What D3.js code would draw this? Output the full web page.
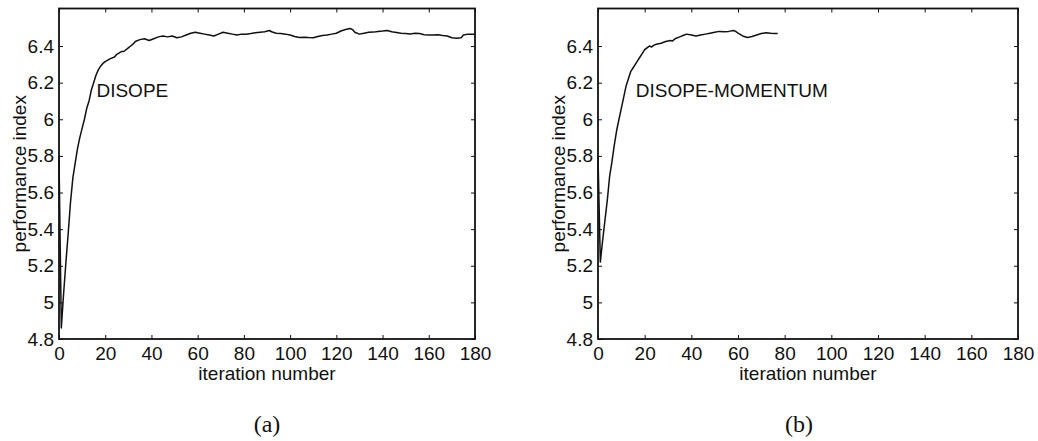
<!DOCTYPE html>
<html>
<head>
<meta charset="utf-8">
<script src="https://cdn.jsdelivr.net/npm/d3@7"></script>
<style>
  body { margin: 0; background: #fff; }
  svg { display: block; }
  text { font-family: Arial, "Liberation Sans", Helvetica, sans-serif; fill: #111; }
</style>
</head>
<body>
<div id="chart"></div>
<script>
// x tick labels, y tick labels
const xTicks = [0, 20, 40, 60, 80, 100, 120, 140, 160, 180];
const yTicks = [4.8, 5, 5.2, 5.4, 5.6, 5.8, 6, 6.2, 6.4];

// DISOPE: [iteration, performance index]
const disope = [
  [0, 5.80], [1, 4.86], [2, 5.05], [3, 5.22], [4, 5.38], [5, 5.55], [6, 5.68], [7, 5.76],
  [8, 5.84], [9, 5.90], [10, 5.95], [11, 6.00], [12, 6.06], [13, 6.10], [14, 6.16], [15, 6.20],
  [16, 6.24], [17, 6.27], [18, 6.29], [19, 6.305], [20, 6.315], [22, 6.33], [24, 6.34], [25, 6.355],
  [27, 6.37], [28, 6.37], [30, 6.39], [31, 6.40], [32, 6.41], [33, 6.425], [35, 6.435], [37, 6.44],
  [39, 6.43], [41, 6.44], [43, 6.45], [45, 6.455], [47, 6.45], [49, 6.455], [51, 6.445], [53, 6.45],
  [55, 6.46], [57, 6.47], [59, 6.475], [61, 6.47], [63, 6.465], [65, 6.46], [67, 6.455], [69, 6.465],
  [71, 6.475], [73, 6.47], [75, 6.465], [77, 6.46], [79, 6.465], [81, 6.465], [83, 6.468], [85, 6.472],
  [87, 6.475], [89, 6.478], [91, 6.485], [92, 6.478], [94, 6.47], [96, 6.468], [98, 6.465], [100, 6.46],
  [102, 6.452], [104, 6.447], [106, 6.448], [108, 6.446], [110, 6.445], [112, 6.452], [114, 6.458], [116, 6.46],
  [118, 6.465], [120, 6.47], [122, 6.482], [124, 6.49], [126, 6.496], [127, 6.49], [128, 6.475], [130, 6.465],
  [132, 6.47], [134, 6.475], [136, 6.476], [138, 6.48], [140, 6.482], [142, 6.485], [144, 6.478], [146, 6.474],
  [148, 6.47], [150, 6.468], [152, 6.466], [154, 6.47], [156, 6.468], [158, 6.462], [160, 6.46], [162, 6.46],
  [164, 6.462], [166, 6.458], [168, 6.455], [170, 6.445], [172, 6.443], [174, 6.445], [175, 6.46], [177, 6.465],
  [180, 6.465]
];

// DISOPE-MOMENTUM: [iteration, performance index]
const momentum = [
  [0, 5.80], [1, 5.22], [2, 5.34], [3, 5.45], [4, 5.56], [5, 5.69], [6, 5.77], [7, 5.86],
  [8, 5.94], [9, 6.00], [10, 6.06], [11, 6.12], [12, 6.18], [13, 6.22], [14, 6.26], [15, 6.28],
  [16, 6.30], [17, 6.32], [18, 6.34], [19, 6.36], [20, 6.38], [21, 6.39], [22, 6.40], [23, 6.395],
  [24, 6.405], [25, 6.41], [27, 6.415], [29, 6.425], [31, 6.43], [32, 6.428], [33, 6.44], [35, 6.45],
  [37, 6.46], [38, 6.465], [40, 6.46], [42, 6.455], [44, 6.46], [46, 6.465], [48, 6.47], [50, 6.475],
  [52, 6.48], [54, 6.478], [56, 6.48], [58, 6.485], [59, 6.48], [60, 6.47], [62, 6.455], [64, 6.447],
  [66, 6.452], [68, 6.46], [70, 6.468], [72, 6.473], [74, 6.47], [76, 6.468], [77, 6.468]
];

const width = 1038, height = 441;
const svg = d3.select("#chart").append("svg")
  .attr("width", width).attr("height", height);

// draw one panel
function panel(data, left, right, label, sub, subX) {
  const top = 8.5, bottom = 339;
  const x = d3.scaleLinear().domain([0, 180]).range([left, right]);
  const y = d3.scaleLinear().domain([4.8, 6.605]).range([bottom, top]);
  const g = svg.append("g");

  // inward ticks on all four sides
  const tl = 4;
  g.append("g").attr("transform", `translate(0,${bottom})`)
    .call(d3.axisBottom(x).tickValues(xTicks).tickSize(-tl).tickPadding(8))
    .call(a => a.select(".domain").remove());
  g.append("g").attr("transform", `translate(0,${top})`)
    .call(d3.axisTop(x).tickValues(xTicks).tickSize(-tl).tickFormat(""))
    .call(a => a.select(".domain").remove());
  g.append("g").attr("transform", `translate(${left},0)`)
    .call(d3.axisLeft(y).tickValues(yTicks).tickSize(-tl).tickPadding(5).tickFormat(d3.format("")))
    .call(a => a.select(".domain").remove());
  g.append("g").attr("transform", `translate(${right},0)`)
    .call(d3.axisRight(y).tickValues(yTicks).tickSize(-tl).tickFormat(""))
    .call(a => a.select(".domain").remove());
  g.selectAll(".tick line").attr("stroke", "#111").attr("stroke-width", 1);
  g.selectAll(".tick text").attr("font-size", 19).attr("fill", "#111")
    .style("font-family", "Arial, 'Liberation Sans', sans-serif");

  g.append("rect")
    .attr("x", left).attr("y", top)
    .attr("width", right - left).attr("height", bottom - top)
    .attr("fill", "none").attr("stroke", "#111").attr("stroke-width", 1.8);

  g.append("path")
    .datum(data)
    .attr("fill", "none").attr("stroke", "#111").attr("stroke-width", 1.5)
    .attr("stroke-linejoin", "round")
    .attr("d", d3.line().x(d => x(d[0])).y(d => y(d[1])));

  g.append("text")
    .attr("x", x(16.2)).attr("y", y(6.12))
    .attr("font-size", 19).text(label);

  g.append("text")
    .attr("x", (left + right) / 2).attr("y", 380)
    .attr("text-anchor", "middle").attr("font-size", 19)
    .text("iteration number");

  g.append("text")
    .attr("transform", `translate(${left - 33},${(top + bottom) / 2}) rotate(-90)`)
    .attr("text-anchor", "middle").attr("font-size", 19)
    .text("performance index");

  g.append("text")
    .attr("x", subX).attr("y", 432)
    .attr("text-anchor", "middle").attr("font-size", 24)
    .style("font-family", "'Liberation Serif', 'Times New Roman', serif")
    .text(sub);
}

panel(disope, 59, 475, "DISOPE", "(a)", 267);
panel(momentum, 598, 1018, "DISOPE-MOMENTUM", "(b)", 799);
</script>
</body>
</html>
